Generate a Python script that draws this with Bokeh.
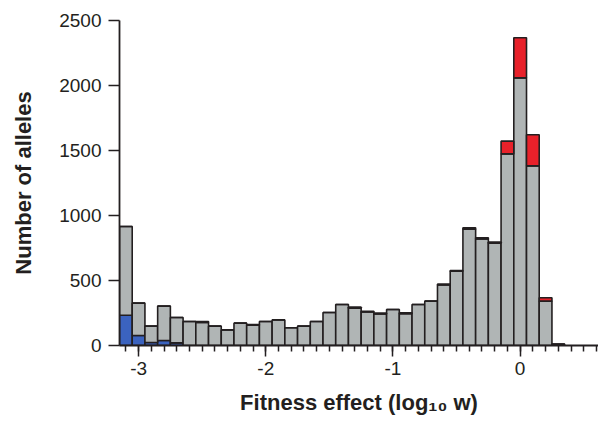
from bokeh.plotting import figure
from bokeh.models import ColumnDataSource, Range1d, FixedTicker
from bokeh.embed import file_html
from bokeh.resources import INLINE

# ---- data ----
bin_centers = [-3.1, -3.0, -2.9, -2.8, -2.7, -2.6, -2.5, -2.4, -2.3, -2.2,
               -2.1, -2.0, -1.9, -1.8, -1.7, -1.6, -1.5, -1.4, -1.3, -1.2,
               -1.1, -1.0, -0.9, -0.8, -0.7, -0.6, -0.5, -0.4, -0.3, -0.2,
               -0.1, 0.0, 0.1, 0.2, 0.3]
blue_counts = [233, 77, 23, 38, 20, 0, 0, 0, 0, 0,
               0, 0, 0, 0, 0, 0, 0, 0, 0, 0,
               0, 0, 0, 0, 0, 0, 0, 0, 0, 0,
               0, 0, 0, 0, 0]
gray_counts = [682, 249, 126, 265, 195, 185, 177, 149, 120, 172,
               156, 185, 197, 136, 149, 185, 254, 315, 287, 258,
               243, 277, 245, 315, 341, 466, 571, 895, 820, 787,
               1474, 2059, 1382, 341, 12]
red_counts = [0, 0, 0, 0, 0, 0, 8, 0, 0, 0,
              6, 0, 0, 0, 0, 0, 0, 0, 8, 6,
              6, 0, 6, 0, 0, 6, 6, 10, 8, 8,
              98, 308, 239, 26, 0]

x_major_ticks = [-3, -2, -1, 0]
x_tick_labels = {-3: "-3", -2: "-2", -1: "-1", 0: "0"}
x_minor_ticks = [round(-3.1 + 0.1 * i, 1) for i in range(38)]
y_ticks = [0, 500, 1000, 1500, 2000, 2500]

BLUE = "#3b63bf"
GRAY = "#b0b5b5"
RED = "#e8212a"
INK = "#231f20"
FONT = "Liberation Sans"

src = ColumnDataSource(dict(x=bin_centers, blue=blue_counts,
                            gray=gray_counts, red=red_counts))

p = figure(width=598, height=421, output_backend="svg", toolbar_location=None,
           x_range=Range1d(-3.15, 0.616), y_range=Range1d(0, 2500),
           min_border_left=119, min_border_right=0, min_border_top=20,
           min_border_bottom=76)
p.outline_line_color = None
p.grid.visible = False
p.background_fill_color = "white"
p.border_fill_color = "white"

p.vbar_stack(["blue", "gray", "red"], x="x", width=0.1, source=src,
             fill_color=[BLUE, GRAY, RED], line_color=INK, line_width=1.6)

# x axis
xa = p.xaxis[0]
xa.ticker = FixedTicker(ticks=x_major_ticks, minor_ticks=x_minor_ticks)
xa.major_label_overrides = x_tick_labels
xa.axis_line_color = INK
xa.axis_line_width = 1.8
xa.major_tick_line_color = INK
xa.major_tick_line_width = 1.5
xa.major_tick_in = 0
xa.major_tick_out = 11
xa.minor_tick_line_color = INK
xa.minor_tick_line_width = 1.5
xa.minor_tick_in = 0
xa.minor_tick_out = 6
xa.major_label_standoff = 5
xa.major_label_text_font = FONT
xa.major_label_text_font_size = "19px"
xa.major_label_text_color = INK
xa.axis_label = "Fitness effect (log\u2081\u2080 w)"
xa.axis_label_text_font = FONT
xa.axis_label_text_font_size = "22px"
xa.axis_label_text_font_style = "bold"
xa.axis_label_text_color = INK
xa.axis_label_standoff = 12

# y axis
ya = p.yaxis[0]
ya.ticker = FixedTicker(ticks=y_ticks)
ya.axis_line_color = INK
ya.axis_line_width = 1.8
ya.major_tick_line_color = INK
ya.major_tick_line_width = 1.5
ya.major_tick_in = 0
ya.major_tick_out = 11
ya.minor_tick_line_color = None
ya.major_label_standoff = 7
ya.major_label_text_font = FONT
ya.major_label_text_font_size = "19px"
ya.major_label_text_color = INK
ya.axis_label = "Number of alleles"
ya.axis_label_text_font = FONT
ya.axis_label_text_font_size = "22px"
ya.axis_label_text_font_style = "bold"
ya.axis_label_text_color = INK
ya.axis_label_standoff = 20

open("out.html", "w").write(file_html(p, INLINE))
